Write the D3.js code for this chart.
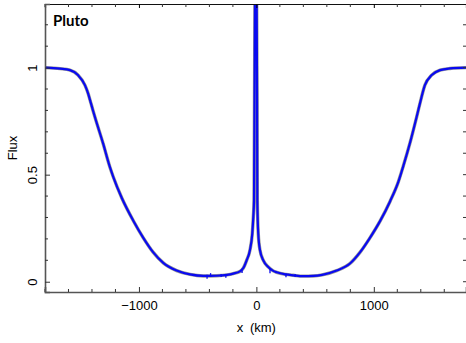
<!DOCTYPE html>
<html>
<head>
<meta charset="utf-8">
<script src="https://cdn.jsdelivr.net/npm/d3@7"></script>
<style>
  body { margin: 0; background: #fff; }
  text { font-family: "Liberation Sans", Arial, sans-serif; fill: #000; }
</style>
</head>
<body>
<div id="chart"></div>
<script>
// light curve: shadow-plane distance (km) and normalised flux
var xKm = [-1800, -1672, -1587, -1519, -1460, -1434, -1409, -1392, -1375, -1306, -1247,
  -1219, -1145, -1048, -963, -878, -793, -679, -565, -452, -338, -250, -197, -140, -110, -83,
  -55, -35, -26, -20, -16, -12, -5, 2, 6, 8, 16, 31, 59, 101, 140, 173, 250, 314, 399, 485,
  560, 684, 797, 882, 967, 1053, 1138, 1208, 1251, 1309, 1365, 1393, 1435, 1493, 1564, 1649, 1785];
var flux = [1.0, 0.995, 0.988, 0.965, 0.918, 0.881, 0.834, 0.801, 0.769, 0.647, 0.535,
  0.490, 0.390, 0.285, 0.205, 0.137, 0.088, 0.052, 0.034, 0.027, 0.028, 0.032, 0.038, 0.048, 0.065, 0.100,
  0.147, 0.225, 0.303, 0.381, 0.85, 1.35, 1.8, 1.35, 0.85, 0.381, 0.225, 0.147, 0.100, 0.069, 0.052, 0.044, 0.034, 0.030, 0.026, 0.027,
  0.032, 0.052, 0.085, 0.137, 0.205, 0.283, 0.375, 0.465, 0.540, 0.650, 0.770, 0.833, 0.918, 0.965, 0.988, 0.996, 1.0];

// little noise spikes on the floor: [x, low, high]
var glitches = [[-420, 0.014, 0.032], [-390, 0.024, 0.040], [-300, 0.022, 0.036], [-260, 0.018, 0.035],
  [-122, 0.041, 0.060], [116, 0.040, 0.062], [252, 0.021, 0.038], [330, 0.022, 0.036]];

var xMajor = [-1000, 0, 1000];
var yMajor = [0, 0.5, 1];

var W = 466, H = 343;
var margin = {top: 4, right: 0, bottom: 51, left: 45};

var svg = d3.select("#chart").append("svg")
  .attr("width", W).attr("height", H);

var x = d3.scaleLinear().domain([-1800, 1785]).range([margin.left, W - margin.right]);
var y = d3.scaleLinear().domain([-0.048, 1.297]).range([H - margin.bottom, margin.top]);

svg.append("defs").append("clipPath").attr("id", "clip")
  .append("rect")
  .attr("x", margin.left).attr("y", margin.top)
  .attr("width", W - margin.left - margin.right)
  .attr("height", H - margin.top - margin.bottom);

var pts = xKm.map(function(d, i) { return [d, flux[i]]; });
var line = d3.line()
  .x(function(d) { return x(d[0]); })
  .y(function(d) { return y(d[1]); })
  .curve(d3.curveMonotoneX);

var plot = svg.append("g").attr("clip-path", "url(#clip)");

// model underneath (grey), data on top (blue)
plot.append("path").attr("d", line(pts))
  .attr("fill", "none").attr("stroke", "#999").attr("stroke-width", 3.4);
plot.append("path").attr("d", line(pts))
  .attr("fill", "none").attr("stroke", "#0a0af0").attr("stroke-width", 2.2)
  .attr("stroke-linejoin", "round");
plot.selectAll(".gl").data(glitches).enter().append("line")
  .attr("x1", function(d) { return x(d[0]); }).attr("x2", function(d) { return x(d[0]); })
  .attr("y1", function(d) { return y(d[1]); }).attr("y2", function(d) { return y(d[2]); })
  .attr("stroke", "#0a0af0").attr("stroke-width", 1.3);

// axes with inward ticks
var xMinor = d3.range(-1800, 1801, 200).filter(function(v) { return xMajor.indexOf(v) < 0; });
var yMinor = d3.range(0, 13).map(function(i) { return i / 10; }).filter(function(v) { return yMajor.indexOf(v) < 0; });

var bottomAx = svg.append("g").attr("transform", "translate(0," + (H - margin.bottom) + ")");
bottomAx.call(d3.axisBottom(x).tickValues(xMajor).tickSize(-5).tickFormat(d3.format("d")));
bottomAx.call(function(g) {
  g.select(".domain").attr("stroke", "#555").attr("stroke-width", 1.6);
  g.selectAll(".tick line").attr("stroke", "#333");
  g.selectAll(".tick text").attr("y", 9).attr("dy", "0.71em")
    .style("font-size", "13px").style("font-family", "Liberation Sans, Arial, sans-serif")
    .text(function(d) { return d < 0 ? "\u2212" + Math.abs(d) : d; });
});
bottomAx.selectAll(".mt").data(xMinor).enter().append("line")
  .attr("x1", x).attr("x2", x).attr("y1", 0).attr("y2", -3).attr("stroke", "#333");

var topAx = svg.append("g").attr("transform", "translate(0," + margin.top + ")");
topAx.call(d3.axisTop(x).tickValues(xMajor).tickSize(-4).tickFormat(""));
topAx.select(".domain").attr("stroke", "#111").attr("stroke-width", 1.2);
topAx.selectAll(".mt").data(xMinor).enter().append("line")
  .attr("x1", x).attr("x2", x).attr("y1", 0).attr("y2", 3).attr("stroke", "#333");

var leftAx = svg.append("g").attr("transform", "translate(" + margin.left + ",0)");
leftAx.call(d3.axisLeft(y).tickValues(yMajor).tickSize(-5).tickFormat(d3.format("")));
leftAx.call(function(g) {
  g.select(".domain").attr("stroke", "#555").attr("stroke-width", 1.6);
  g.selectAll(".tick line").attr("stroke", "#333");
  g.selectAll(".tick text")
    .attr("x", null).attr("dy", null)
    .attr("text-anchor", "middle")
    .attr("transform", "translate(-8,0) rotate(-90)")
    .style("font-size", "13px").style("font-family", "Liberation Sans, Arial, sans-serif");
});
leftAx.selectAll(".mt").data(yMinor).enter().append("line")
  .attr("y1", y).attr("y2", y).attr("x1", 0).attr("x2", 3).attr("stroke", "#333");

var rightAx = svg.append("g").attr("transform", "translate(" + (W - margin.right) + ",0)");
rightAx.selectAll(".mt").data(yMajor.concat(yMinor)).enter().append("line")
  .attr("y1", y).attr("y2", y).attr("x1", 0).attr("x2", -3).attr("stroke", "#333");

// labels
svg.append("text")
  .attr("transform", "translate(" + 17 + "," + ((margin.top + H - margin.bottom) / 2) + ") rotate(-90)")
  .attr("text-anchor", "middle")
  .style("font-size", "13px")
  .text("Flux");

svg.append("text")
  .attr("x", x(0)).attr("y", 332)
  .attr("text-anchor", "middle")
  .style("font-size", "13px")
  .style("word-spacing", "3px")
  .text("x (km)");

svg.append("text")
  .attr("x", 53).attr("y", 26)
  .style("font-family", "Lato, 'Open Sans', sans-serif")
  .style("font-weight", "bold")
  .style("font-size", "15px")
  .text("Pluto");
</script>
</body>
</html>
